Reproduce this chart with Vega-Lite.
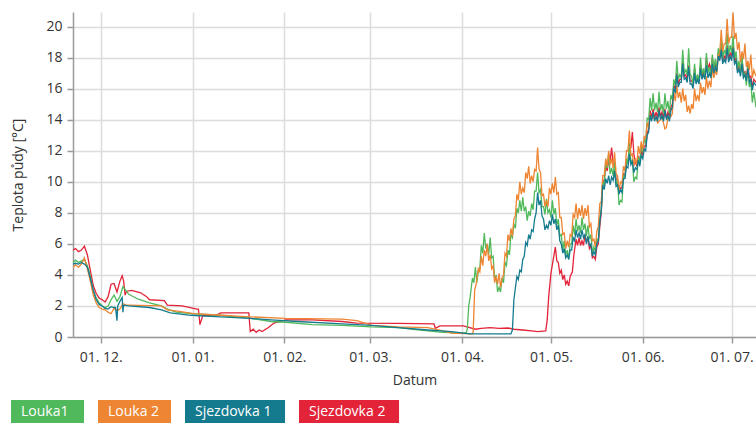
{
"$schema": "https://vega.github.io/schema/vega-lite/v6.json",
"width": 683, "height": 325,
"autosize": {"type": "none"},
"padding": {"left": 73, "top": 12, "right": 0, "bottom": 88},
"background": "white",
"config": {
  "view": {"stroke": null},
  "font": "Open Sans",
  "axis": {"gridColor": "#dcdcdc", "gridWidth": 1.5, "domainColor": "#9a9a9a", "domainWidth": 1.5, "tickColor": "#9a9a9a", "tickWidth": 1.5, "tickSize": 6, "labelFont": "Open Sans", "labelFontSize": 14, "labelColor": "#333333", "titleFont": "Open Sans", "titleFontSize": 14, "titleFontWeight": "normal", "titleColor": "#333333"}
},
"data": {"values": [
{"t":"2015-11-21T15:00","s":"Sjezdovka 2","v":5.6},{"t":"2015-11-22T12:00","s":"Sjezdovka 2","v":5.7},{"t":"2015-11-23T12:00","s":"Sjezdovka 2","v":5.5},{"t":"2015-11-24T12:00","s":"Sjezdovka 2","v":5.6},{"t":"2015-11-25T12:00","s":"Sjezdovka 2","v":5.85},{"t":"2015-11-26T12:00","s":"Sjezdovka 2","v":5.3},{"t":"2015-11-27T12:00","s":"Sjezdovka 2","v":4.3},{"t":"2015-11-28T12:00","s":"Sjezdovka 2","v":3.3},{"t":"2015-11-29T12:00","s":"Sjezdovka 2","v":2.8},{"t":"2015-11-30T12:00","s":"Sjezdovka 2","v":2.5},
{"t":"2015-12-01T12:00","s":"Sjezdovka 2","v":2.4},{"t":"2015-12-02T12:00","s":"Sjezdovka 2","v":2.25},{"t":"2015-12-03T12:00","s":"Sjezdovka 2","v":2.6},{"t":"2015-12-04T12:00","s":"Sjezdovka 2","v":3.4},{"t":"2015-12-05T12:00","s":"Sjezdovka 2","v":3.45},{"t":"2015-12-06T12:00","s":"Sjezdovka 2","v":2.9},{"t":"2015-12-07T12:00","s":"Sjezdovka 2","v":3.6},{"t":"2015-12-08T06:00","s":"Sjezdovka 2","v":3.95},{"t":"2015-12-08T18:00","s":"Sjezdovka 2","v":3.6},{"t":"2015-12-09T06:00","s":"Sjezdovka 2","v":2.7},{"t":"2015-12-09T18:00","s":"Sjezdovka 2","v":2.95},{"t":"2015-12-11T12:00","s":"Sjezdovka 2","v":3.0},{"t":"2015-12-14T12:00","s":"Sjezdovka 2","v":2.85},{"t":"2015-12-16T12:00","s":"Sjezdovka 2","v":2.6},{"t":"2015-12-17T12:00","s":"Sjezdovka 2","v":2.4},{"t":"2015-12-22T12:00","s":"Sjezdovka 2","v":2.35},{"t":"2015-12-23T12:00","s":"Sjezdovka 2","v":2.05},{"t":"2015-12-28T12:00","s":"Sjezdovka 2","v":2.0},
{"t":"2016-01-02T12:00","s":"Sjezdovka 2","v":1.8},{"t":"2016-01-03T00:00","s":"Sjezdovka 2","v":1.8},{"t":"2016-01-03T12:00","s":"Sjezdovka 2","v":0.8},{"t":"2016-01-04T12:00","s":"Sjezdovka 2","v":1.4},{"t":"2016-01-08T12:00","s":"Sjezdovka 2","v":1.35},{"t":"2016-01-10T12:00","s":"Sjezdovka 2","v":1.55},{"t":"2016-01-20T00:00","s":"Sjezdovka 2","v":1.55},{"t":"2016-01-20T12:00","s":"Sjezdovka 2","v":0.35},{"t":"2016-01-21T12:00","s":"Sjezdovka 2","v":0.5},{"t":"2016-01-22T12:00","s":"Sjezdovka 2","v":0.3},{"t":"2016-01-23T12:00","s":"Sjezdovka 2","v":0.45},{"t":"2016-01-24T12:00","s":"Sjezdovka 2","v":0.35},{"t":"2016-01-26T12:00","s":"Sjezdovka 2","v":0.6},{"t":"2016-01-28T12:00","s":"Sjezdovka 2","v":0.9},
{"t":"2016-02-01T12:00","s":"Sjezdovka 2","v":1.1},{"t":"2016-02-10T12:00","s":"Sjezdovka 2","v":1.1},{"t":"2016-02-20T12:00","s":"Sjezdovka 2","v":1.0},{"t":"2016-02-25T12:00","s":"Sjezdovka 2","v":0.9},{"t":"2016-03-10T12:00","s":"Sjezdovka 2","v":0.88},{"t":"2016-03-22T12:00","s":"Sjezdovka 2","v":0.84},{"t":"2016-03-23T00:00","s":"Sjezdovka 2","v":0.56},{"t":"2016-03-24T12:00","s":"Sjezdovka 2","v":0.72},{"t":"2016-04-01T12:00","s":"Sjezdovka 2","v":0.72},{"t":"2016-04-05T12:00","s":"Sjezdovka 2","v":0.5},{"t":"2016-04-07T12:00","s":"Sjezdovka 2","v":0.56},{"t":"2016-04-10T12:00","s":"Sjezdovka 2","v":0.6},{"t":"2016-04-13T12:00","s":"Sjezdovka 2","v":0.55},{"t":"2016-04-16T12:00","s":"Sjezdovka 2","v":0.58},{"t":"2016-04-18T12:00","s":"Sjezdovka 2","v":0.5},{"t":"2016-04-21T12:00","s":"Sjezdovka 2","v":0.45},{"t":"2016-04-24T12:00","s":"Sjezdovka 2","v":0.4},{"t":"2016-04-26T12:00","s":"Sjezdovka 2","v":0.35},{"t":"2016-04-29T06:00","s":"Sjezdovka 2","v":0.4},{"t":"2016-04-29T18:00","s":"Sjezdovka 2","v":1.1},{"t":"2016-04-30T06:00","s":"Sjezdovka 2","v":2.6},
{"t":"2016-05-01T00:00","s":"Sjezdovka 2","v":4.1},{"t":"2016-05-02T12:00","s":"Sjezdovka 2","v":5.8},{"t":"2016-05-03T12:00","s":"Sjezdovka 2","v":4.8},{"t":"2016-05-04T12:00","s":"Sjezdovka 2","v":4.3},{"t":"2016-05-05T12:00","s":"Sjezdovka 2","v":4.0},{"t":"2016-05-06T12:00","s":"Sjezdovka 2","v":3.6},{"t":"2016-05-07T12:00","s":"Sjezdovka 2","v":3.9},{"t":"2016-05-08T06:00","s":"Sjezdovka 2","v":4.2},{"t":"2016-05-08T18:00","s":"Sjezdovka 2","v":5.3},{"t":"2016-05-09T12:00","s":"Sjezdovka 2","v":6.3},{"t":"2016-05-10T12:00","s":"Sjezdovka 2","v":6.4},{"t":"2016-05-11T12:00","s":"Sjezdovka 2","v":6.2},{"t":"2016-05-12T12:00","s":"Sjezdovka 2","v":6.6},{"t":"2016-05-13T12:00","s":"Sjezdovka 2","v":6.4},{"t":"2016-05-14T12:00","s":"Sjezdovka 2","v":5.9},{"t":"2016-05-15T12:00","s":"Sjezdovka 2","v":5.2},{"t":"2016-05-16T12:00","s":"Sjezdovka 2","v":5.8},{"t":"2016-05-17T12:00","s":"Sjezdovka 2","v":7.1},{"t":"2016-05-18T12:00","s":"Sjezdovka 2","v":10.0},{"t":"2016-05-19T12:00","s":"Sjezdovka 2","v":11.0},{"t":"2016-05-20T12:00","s":"Sjezdovka 2","v":11.4},{"t":"2016-05-21T12:00","s":"Sjezdovka 2","v":12.2},{"t":"2016-05-22T12:00","s":"Sjezdovka 2","v":11.2},{"t":"2016-05-23T12:00","s":"Sjezdovka 2","v":10.1},{"t":"2016-05-24T12:00","s":"Sjezdovka 2","v":9.6},{"t":"2016-05-25T12:00","s":"Sjezdovka 2","v":10.5},{"t":"2016-05-26T12:00","s":"Sjezdovka 2","v":11.3},{"t":"2016-05-27T12:00","s":"Sjezdovka 2","v":12.2},{"t":"2016-05-28T12:00","s":"Sjezdovka 2","v":13.2},{"t":"2016-05-29T12:00","s":"Sjezdovka 2","v":11.3},{"t":"2016-05-30T12:00","s":"Sjezdovka 2","v":11.6},{"t":"2016-05-31T12:00","s":"Sjezdovka 2","v":12.0},
{"t":"2016-06-01T12:00","s":"Sjezdovka 2","v":12.3},{"t":"2016-06-02T12:00","s":"Sjezdovka 2","v":13.1},{"t":"2016-06-03T12:00","s":"Sjezdovka 2","v":14.6},{"t":"2016-06-04T12:00","s":"Sjezdovka 2","v":14.7},{"t":"2016-06-05T12:00","s":"Sjezdovka 2","v":14.5},{"t":"2016-06-06T12:00","s":"Sjezdovka 2","v":14.8},{"t":"2016-06-07T12:00","s":"Sjezdovka 2","v":14.5},{"t":"2016-06-08T12:00","s":"Sjezdovka 2","v":14.7},{"t":"2016-06-09T12:00","s":"Sjezdovka 2","v":14.5},{"t":"2016-06-10T12:00","s":"Sjezdovka 2","v":14.8},{"t":"2016-06-11T12:00","s":"Sjezdovka 2","v":16.2},{"t":"2016-06-12T12:00","s":"Sjezdovka 2","v":17.0},{"t":"2016-06-13T12:00","s":"Sjezdovka 2","v":16.6},{"t":"2016-06-14T12:00","s":"Sjezdovka 2","v":17.8},{"t":"2016-06-15T12:00","s":"Sjezdovka 2","v":16.9},{"t":"2016-06-16T12:00","s":"Sjezdovka 2","v":17.5},{"t":"2016-06-17T12:00","s":"Sjezdovka 2","v":16.5},{"t":"2016-06-18T12:00","s":"Sjezdovka 2","v":17.3},{"t":"2016-06-19T12:00","s":"Sjezdovka 2","v":16.8},{"t":"2016-06-20T12:00","s":"Sjezdovka 2","v":17.5},{"t":"2016-06-21T12:00","s":"Sjezdovka 2","v":17.1},{"t":"2016-06-22T12:00","s":"Sjezdovka 2","v":18.0},{"t":"2016-06-23T12:00","s":"Sjezdovka 2","v":17.6},{"t":"2016-06-24T12:00","s":"Sjezdovka 2","v":18.0},{"t":"2016-06-25T12:00","s":"Sjezdovka 2","v":17.6},{"t":"2016-06-26T12:00","s":"Sjezdovka 2","v":18.3},{"t":"2016-06-27T12:00","s":"Sjezdovka 2","v":18.7},{"t":"2016-06-28T12:00","s":"Sjezdovka 2","v":18.1},{"t":"2016-06-29T12:00","s":"Sjezdovka 2","v":18.8},{"t":"2016-06-30T12:00","s":"Sjezdovka 2","v":18.3},
{"t":"2016-07-01T12:00","s":"Sjezdovka 2","v":18.9},{"t":"2016-07-02T12:00","s":"Sjezdovka 2","v":18.0},{"t":"2016-07-03T12:00","s":"Sjezdovka 2","v":17.5},{"t":"2016-07-04T12:00","s":"Sjezdovka 2","v":17.9},{"t":"2016-07-05T12:00","s":"Sjezdovka 2","v":17.1},{"t":"2016-07-06T12:00","s":"Sjezdovka 2","v":17.6},{"t":"2016-07-07T12:00","s":"Sjezdovka 2","v":16.8},{"t":"2016-07-08T12:00","s":"Sjezdovka 2","v":16.6},{"t":"2016-07-09T06:00","s":"Sjezdovka 2","v":16.4},

{"t":"2015-11-21T15:00","s":"Louka1","v":4.8},{"t":"2015-11-22T12:00","s":"Louka1","v":4.95},{"t":"2015-11-23T12:00","s":"Louka1","v":4.8},{"t":"2015-11-24T12:00","s":"Louka1","v":4.9},{"t":"2015-11-25T12:00","s":"Louka1","v":5.0},{"t":"2015-11-26T12:00","s":"Louka1","v":4.6},{"t":"2015-11-27T12:00","s":"Louka1","v":3.9},{"t":"2015-11-28T12:00","s":"Louka1","v":3.0},{"t":"2015-11-29T12:00","s":"Louka1","v":2.5},{"t":"2015-11-30T12:00","s":"Louka1","v":2.2},
{"t":"2015-12-01T12:00","s":"Louka1","v":2.0},{"t":"2015-12-02T12:00","s":"Louka1","v":1.9},{"t":"2015-12-03T12:00","s":"Louka1","v":2.0},{"t":"2015-12-04T12:00","s":"Louka1","v":2.4},{"t":"2015-12-05T12:00","s":"Louka1","v":2.7},{"t":"2015-12-06T12:00","s":"Louka1","v":2.3},{"t":"2015-12-07T12:00","s":"Louka1","v":2.6},{"t":"2015-12-08T12:00","s":"Louka1","v":3.25},{"t":"2015-12-09T12:00","s":"Louka1","v":3.0},{"t":"2015-12-10T12:00","s":"Louka1","v":2.75},{"t":"2015-12-13T12:00","s":"Louka1","v":2.45},{"t":"2015-12-17T12:00","s":"Louka1","v":2.2},{"t":"2015-12-21T12:00","s":"Louka1","v":2.0},{"t":"2015-12-23T12:00","s":"Louka1","v":1.8},{"t":"2015-12-26T12:00","s":"Louka1","v":1.6},{"t":"2015-12-31T12:00","s":"Louka1","v":1.5},
{"t":"2016-01-10T12:00","s":"Louka1","v":1.4},{"t":"2016-01-20T12:00","s":"Louka1","v":1.2},{"t":"2016-01-27T12:00","s":"Louka1","v":1.0},{"t":"2016-02-01T12:00","s":"Louka1","v":0.95},{"t":"2016-02-10T12:00","s":"Louka1","v":0.8},{"t":"2016-02-20T12:00","s":"Louka1","v":0.75},{"t":"2016-03-01T12:00","s":"Louka1","v":0.65},{"t":"2016-03-10T12:00","s":"Louka1","v":0.6},{"t":"2016-03-15T12:00","s":"Louka1","v":0.5},{"t":"2016-03-20T12:00","s":"Louka1","v":0.4},{"t":"2016-03-25T12:00","s":"Louka1","v":0.3},{"t":"2016-04-01T12:00","s":"Louka1","v":0.25},{"t":"2016-04-02T12:00","s":"Louka1","v":0.3},{"t":"2016-04-02T18:00","s":"Louka1","v":0.5},{"t":"2016-04-03T06:00","s":"Louka1","v":2.0},{"t":"2016-04-03T18:00","s":"Louka1","v":2.6},
{"t":"2016-04-04T12:00","s":"Louka1","v":3.8},{"t":"2016-04-05T12:00","s":"Louka1","v":4.5},{"t":"2016-04-06T12:00","s":"Louka1","v":4.3},{"t":"2016-04-07T12:00","s":"Louka1","v":5.9},{"t":"2016-04-08T12:00","s":"Louka1","v":6.7},{"t":"2016-04-09T12:00","s":"Louka1","v":6.0},{"t":"2016-04-10T12:00","s":"Louka1","v":6.4},{"t":"2016-04-11T12:00","s":"Louka1","v":5.2},{"t":"2016-04-12T12:00","s":"Louka1","v":4.0},{"t":"2016-04-13T12:00","s":"Louka1","v":3.2},{"t":"2016-04-14T12:00","s":"Louka1","v":3.8},{"t":"2016-04-15T12:00","s":"Louka1","v":4.8},{"t":"2016-04-16T12:00","s":"Louka1","v":5.6},{"t":"2016-04-17T12:00","s":"Louka1","v":6.6},{"t":"2016-04-18T12:00","s":"Louka1","v":7.3},{"t":"2016-04-19T12:00","s":"Louka1","v":8.3},{"t":"2016-04-20T12:00","s":"Louka1","v":8.8},{"t":"2016-04-21T12:00","s":"Louka1","v":9.0},{"t":"2016-04-22T12:00","s":"Louka1","v":8.4},{"t":"2016-04-23T12:00","s":"Louka1","v":8.1},{"t":"2016-04-24T12:00","s":"Louka1","v":8.6},{"t":"2016-04-25T12:00","s":"Louka1","v":9.4},{"t":"2016-04-26T12:00","s":"Louka1","v":10.6},{"t":"2016-04-27T12:00","s":"Louka1","v":9.5},{"t":"2016-04-28T12:00","s":"Louka1","v":8.4},{"t":"2016-04-29T12:00","s":"Louka1","v":8.9},{"t":"2016-04-30T12:00","s":"Louka1","v":8.2},
{"t":"2016-05-01T12:00","s":"Louka1","v":8.8},{"t":"2016-05-02T12:00","s":"Louka1","v":8.3},{"t":"2016-05-03T12:00","s":"Louka1","v":7.6},{"t":"2016-05-04T12:00","s":"Louka1","v":6.6},{"t":"2016-05-05T12:00","s":"Louka1","v":6.2},{"t":"2016-05-06T12:00","s":"Louka1","v":5.6},{"t":"2016-05-07T12:00","s":"Louka1","v":6.0},{"t":"2016-05-08T12:00","s":"Louka1","v":7.2},{"t":"2016-05-09T12:00","s":"Louka1","v":7.6},{"t":"2016-05-10T12:00","s":"Louka1","v":7.2},{"t":"2016-05-11T12:00","s":"Louka1","v":7.7},{"t":"2016-05-12T12:00","s":"Louka1","v":7.3},{"t":"2016-05-13T12:00","s":"Louka1","v":7.2},{"t":"2016-05-14T12:00","s":"Louka1","v":6.6},{"t":"2016-05-15T12:00","s":"Louka1","v":5.8},{"t":"2016-05-16T12:00","s":"Louka1","v":6.3},{"t":"2016-05-17T12:00","s":"Louka1","v":7.6},{"t":"2016-05-18T12:00","s":"Louka1","v":10.0},{"t":"2016-05-19T12:00","s":"Louka1","v":11.2},{"t":"2016-05-20T12:00","s":"Louka1","v":11.8},{"t":"2016-05-21T12:00","s":"Louka1","v":10.9},{"t":"2016-05-22T12:00","s":"Louka1","v":11.3},{"t":"2016-05-23T12:00","s":"Louka1","v":10.1},{"t":"2016-05-24T12:00","s":"Louka1","v":8.8},{"t":"2016-05-25T12:00","s":"Louka1","v":10.4},{"t":"2016-05-26T12:00","s":"Louka1","v":11.5},{"t":"2016-05-27T12:00","s":"Louka1","v":12.5},{"t":"2016-05-28T12:00","s":"Louka1","v":11.4},{"t":"2016-05-29T12:00","s":"Louka1","v":10.3},{"t":"2016-05-30T12:00","s":"Louka1","v":11.6},{"t":"2016-05-31T12:00","s":"Louka1","v":12.4},
{"t":"2016-06-01T12:00","s":"Louka1","v":12.7},{"t":"2016-06-02T12:00","s":"Louka1","v":14.1},{"t":"2016-06-03T12:00","s":"Louka1","v":15.4},{"t":"2016-06-04T12:00","s":"Louka1","v":15.7},{"t":"2016-06-05T12:00","s":"Louka1","v":15.1},{"t":"2016-06-06T12:00","s":"Louka1","v":15.8},{"t":"2016-06-07T12:00","s":"Louka1","v":15.0},{"t":"2016-06-08T12:00","s":"Louka1","v":15.7},{"t":"2016-06-09T12:00","s":"Louka1","v":15.2},{"t":"2016-06-10T12:00","s":"Louka1","v":15.6},{"t":"2016-06-11T12:00","s":"Louka1","v":16.6},{"t":"2016-06-12T12:00","s":"Louka1","v":17.8},{"t":"2016-06-13T12:00","s":"Louka1","v":16.9},{"t":"2016-06-14T12:00","s":"Louka1","v":18.5},{"t":"2016-06-15T12:00","s":"Louka1","v":17.2},{"t":"2016-06-16T12:00","s":"Louka1","v":18.6},{"t":"2016-06-17T12:00","s":"Louka1","v":16.8},{"t":"2016-06-18T12:00","s":"Louka1","v":17.6},{"t":"2016-06-19T12:00","s":"Louka1","v":16.9},{"t":"2016-06-20T12:00","s":"Louka1","v":18.0},{"t":"2016-06-21T12:00","s":"Louka1","v":17.3},{"t":"2016-06-22T12:00","s":"Louka1","v":18.3},{"t":"2016-06-23T12:00","s":"Louka1","v":17.4},{"t":"2016-06-24T12:00","s":"Louka1","v":18.2},{"t":"2016-06-25T12:00","s":"Louka1","v":17.9},{"t":"2016-06-26T12:00","s":"Louka1","v":18.6},{"t":"2016-06-27T12:00","s":"Louka1","v":19.3},{"t":"2016-06-28T12:00","s":"Louka1","v":18.5},{"t":"2016-06-29T12:00","s":"Louka1","v":19.6},{"t":"2016-06-30T12:00","s":"Louka1","v":18.8},
{"t":"2016-07-01T12:00","s":"Louka1","v":19.4},{"t":"2016-07-02T12:00","s":"Louka1","v":18.4},{"t":"2016-07-03T12:00","s":"Louka1","v":17.8},{"t":"2016-07-04T12:00","s":"Louka1","v":18.2},{"t":"2016-07-05T12:00","s":"Louka1","v":17.0},{"t":"2016-07-06T12:00","s":"Louka1","v":17.5},{"t":"2016-07-07T12:00","s":"Louka1","v":16.4},{"t":"2016-07-08T12:00","s":"Louka1","v":15.8},{"t":"2016-07-09T06:00","s":"Louka1","v":14.8},

{"t":"2015-11-21T15:00","s":"Louka 2","v":4.5},{"t":"2015-11-22T12:00","s":"Louka 2","v":4.65},{"t":"2015-11-23T12:00","s":"Louka 2","v":4.5},{"t":"2015-11-24T12:00","s":"Louka 2","v":4.7},{"t":"2015-11-25T12:00","s":"Louka 2","v":5.1},{"t":"2015-11-26T12:00","s":"Louka 2","v":4.4},{"t":"2015-11-27T12:00","s":"Louka 2","v":3.6},{"t":"2015-11-28T12:00","s":"Louka 2","v":2.7},{"t":"2015-11-29T12:00","s":"Louka 2","v":2.2},{"t":"2015-11-30T12:00","s":"Louka 2","v":1.9},
{"t":"2015-12-01T12:00","s":"Louka 2","v":1.8},{"t":"2015-12-02T12:00","s":"Louka 2","v":1.75},{"t":"2015-12-03T12:00","s":"Louka 2","v":1.6},{"t":"2015-12-04T12:00","s":"Louka 2","v":1.5},{"t":"2015-12-05T12:00","s":"Louka 2","v":1.85},{"t":"2015-12-06T12:00","s":"Louka 2","v":1.7},{"t":"2015-12-07T12:00","s":"Louka 2","v":1.8},{"t":"2015-12-08T12:00","s":"Louka 2","v":2.15},{"t":"2015-12-09T12:00","s":"Louka 2","v":2.05},{"t":"2015-12-10T12:00","s":"Louka 2","v":2.05},{"t":"2015-12-21T12:00","s":"Louka 2","v":2.0},{"t":"2015-12-23T12:00","s":"Louka 2","v":1.75},{"t":"2015-12-27T12:00","s":"Louka 2","v":1.65},
{"t":"2016-01-01T12:00","s":"Louka 2","v":1.5},{"t":"2016-01-10T12:00","s":"Louka 2","v":1.4},{"t":"2016-01-20T12:00","s":"Louka 2","v":1.3},{"t":"2016-02-01T12:00","s":"Louka 2","v":1.2},{"t":"2016-02-20T12:00","s":"Louka 2","v":1.15},{"t":"2016-02-25T12:00","s":"Louka 2","v":1.05},{"t":"2016-03-01T12:00","s":"Louka 2","v":0.75},{"t":"2016-03-10T12:00","s":"Louka 2","v":0.65},{"t":"2016-03-20T12:00","s":"Louka 2","v":0.6},{"t":"2016-03-25T12:00","s":"Louka 2","v":0.4},{"t":"2016-03-28T12:00","s":"Louka 2","v":0.25},{"t":"2016-04-04T12:00","s":"Louka 2","v":0.2},{"t":"2016-04-04T18:00","s":"Louka 2","v":0.3},{"t":"2016-04-05T06:00","s":"Louka 2","v":3.0},{"t":"2016-04-05T18:00","s":"Louka 2","v":3.4},
{"t":"2016-04-06T12:00","s":"Louka 2","v":4.4},{"t":"2016-04-07T12:00","s":"Louka 2","v":5.2},{"t":"2016-04-08T12:00","s":"Louka 2","v":5.6},{"t":"2016-04-09T12:00","s":"Louka 2","v":6.0},{"t":"2016-04-10T12:00","s":"Louka 2","v":5.3},{"t":"2016-04-11T12:00","s":"Louka 2","v":4.6},{"t":"2016-04-12T12:00","s":"Louka 2","v":3.9},{"t":"2016-04-13T12:00","s":"Louka 2","v":4.1},{"t":"2016-04-14T12:00","s":"Louka 2","v":3.8},{"t":"2016-04-15T12:00","s":"Louka 2","v":5.4},{"t":"2016-04-16T12:00","s":"Louka 2","v":6.6},{"t":"2016-04-17T12:00","s":"Louka 2","v":7.0},{"t":"2016-04-18T12:00","s":"Louka 2","v":7.6},{"t":"2016-04-19T12:00","s":"Louka 2","v":9.2},{"t":"2016-04-20T12:00","s":"Louka 2","v":10.0},{"t":"2016-04-21T12:00","s":"Louka 2","v":9.6},{"t":"2016-04-22T12:00","s":"Louka 2","v":10.6},{"t":"2016-04-23T12:00","s":"Louka 2","v":11.0},{"t":"2016-04-24T12:00","s":"Louka 2","v":10.4},{"t":"2016-04-25T12:00","s":"Louka 2","v":10.8},{"t":"2016-04-26T12:00","s":"Louka 2","v":12.2},{"t":"2016-04-27T12:00","s":"Louka 2","v":10.6},{"t":"2016-04-28T12:00","s":"Louka 2","v":9.2},{"t":"2016-04-29T12:00","s":"Louka 2","v":8.8},{"t":"2016-04-30T12:00","s":"Louka 2","v":9.6},
{"t":"2016-05-01T12:00","s":"Louka 2","v":9.9},{"t":"2016-05-02T12:00","s":"Louka 2","v":10.3},{"t":"2016-05-03T12:00","s":"Louka 2","v":9.3},{"t":"2016-05-04T12:00","s":"Louka 2","v":7.7},{"t":"2016-05-05T12:00","s":"Louka 2","v":6.7},{"t":"2016-05-06T12:00","s":"Louka 2","v":6.2},{"t":"2016-05-07T12:00","s":"Louka 2","v":6.6},{"t":"2016-05-08T12:00","s":"Louka 2","v":7.9},{"t":"2016-05-09T12:00","s":"Louka 2","v":8.6},{"t":"2016-05-10T12:00","s":"Louka 2","v":8.3},{"t":"2016-05-11T12:00","s":"Louka 2","v":8.5},{"t":"2016-05-12T12:00","s":"Louka 2","v":8.3},{"t":"2016-05-13T12:00","s":"Louka 2","v":8.5},{"t":"2016-05-14T12:00","s":"Louka 2","v":7.3},{"t":"2016-05-15T12:00","s":"Louka 2","v":6.3},{"t":"2016-05-16T12:00","s":"Louka 2","v":6.8},{"t":"2016-05-17T12:00","s":"Louka 2","v":8.6},{"t":"2016-05-18T12:00","s":"Louka 2","v":10.4},{"t":"2016-05-19T12:00","s":"Louka 2","v":11.5},{"t":"2016-05-20T12:00","s":"Louka 2","v":12.0},{"t":"2016-05-21T12:00","s":"Louka 2","v":11.5},{"t":"2016-05-22T12:00","s":"Louka 2","v":11.9},{"t":"2016-05-23T12:00","s":"Louka 2","v":10.4},{"t":"2016-05-24T12:00","s":"Louka 2","v":10.0},{"t":"2016-05-25T12:00","s":"Louka 2","v":11.0},{"t":"2016-05-26T12:00","s":"Louka 2","v":12.0},{"t":"2016-05-27T12:00","s":"Louka 2","v":13.3},{"t":"2016-05-28T12:00","s":"Louka 2","v":11.8},{"t":"2016-05-29T12:00","s":"Louka 2","v":11.5},{"t":"2016-05-30T12:00","s":"Louka 2","v":12.3},{"t":"2016-05-31T12:00","s":"Louka 2","v":12.6},
{"t":"2016-06-01T12:00","s":"Louka 2","v":12.9},{"t":"2016-06-02T12:00","s":"Louka 2","v":13.8},{"t":"2016-06-03T12:00","s":"Louka 2","v":14.3},{"t":"2016-06-04T12:00","s":"Louka 2","v":14.1},{"t":"2016-06-05T12:00","s":"Louka 2","v":14.2},{"t":"2016-06-06T12:00","s":"Louka 2","v":13.9},{"t":"2016-06-07T12:00","s":"Louka 2","v":14.2},{"t":"2016-06-08T12:00","s":"Louka 2","v":13.4},{"t":"2016-06-09T12:00","s":"Louka 2","v":14.1},{"t":"2016-06-10T12:00","s":"Louka 2","v":14.2},{"t":"2016-06-11T12:00","s":"Louka 2","v":15.8},{"t":"2016-06-12T12:00","s":"Louka 2","v":16.2},{"t":"2016-06-13T12:00","s":"Louka 2","v":15.8},{"t":"2016-06-14T12:00","s":"Louka 2","v":16.0},{"t":"2016-06-15T12:00","s":"Louka 2","v":15.6},{"t":"2016-06-16T12:00","s":"Louka 2","v":14.9},{"t":"2016-06-17T12:00","s":"Louka 2","v":15.0},{"t":"2016-06-18T12:00","s":"Louka 2","v":16.0},{"t":"2016-06-19T12:00","s":"Louka 2","v":15.6},{"t":"2016-06-20T12:00","s":"Louka 2","v":16.4},{"t":"2016-06-21T12:00","s":"Louka 2","v":16.1},{"t":"2016-06-22T12:00","s":"Louka 2","v":16.8},{"t":"2016-06-23T12:00","s":"Louka 2","v":16.5},{"t":"2016-06-24T12:00","s":"Louka 2","v":17.4},{"t":"2016-06-25T12:00","s":"Louka 2","v":17.2},{"t":"2016-06-26T12:00","s":"Louka 2","v":18.2},{"t":"2016-06-27T12:00","s":"Louka 2","v":19.8},{"t":"2016-06-28T12:00","s":"Louka 2","v":18.9},{"t":"2016-06-29T12:00","s":"Louka 2","v":20.5},{"t":"2016-06-30T12:00","s":"Louka 2","v":19.3},
{"t":"2016-07-01T12:00","s":"Louka 2","v":20.9},{"t":"2016-07-02T12:00","s":"Louka 2","v":19.6},{"t":"2016-07-03T12:00","s":"Louka 2","v":19.0},{"t":"2016-07-04T12:00","s":"Louka 2","v":18.4},{"t":"2016-07-05T12:00","s":"Louka 2","v":18.9},{"t":"2016-07-06T12:00","s":"Louka 2","v":17.8},{"t":"2016-07-07T12:00","s":"Louka 2","v":18.2},{"t":"2016-07-08T12:00","s":"Louka 2","v":17.2},{"t":"2016-07-09T06:00","s":"Louka 2","v":16.8},

{"t":"2015-11-21T15:00","s":"Sjezdovka 1","v":4.7},{"t":"2015-11-22T12:00","s":"Sjezdovka 1","v":4.75},{"t":"2015-11-23T12:00","s":"Sjezdovka 1","v":4.7},{"t":"2015-11-24T12:00","s":"Sjezdovka 1","v":4.8},{"t":"2015-11-25T12:00","s":"Sjezdovka 1","v":4.7},{"t":"2015-11-26T12:00","s":"Sjezdovka 1","v":4.5},{"t":"2015-11-27T12:00","s":"Sjezdovka 1","v":3.8},{"t":"2015-11-28T12:00","s":"Sjezdovka 1","v":3.0},{"t":"2015-11-29T12:00","s":"Sjezdovka 1","v":2.4},{"t":"2015-11-30T12:00","s":"Sjezdovka 1","v":2.1},
{"t":"2015-12-01T12:00","s":"Sjezdovka 1","v":2.0},{"t":"2015-12-02T12:00","s":"Sjezdovka 1","v":1.85},{"t":"2015-12-03T12:00","s":"Sjezdovka 1","v":1.8},{"t":"2015-12-04T12:00","s":"Sjezdovka 1","v":1.95},{"t":"2015-12-05T12:00","s":"Sjezdovka 1","v":1.9},{"t":"2015-12-06T00:00","s":"Sjezdovka 1","v":1.9},{"t":"2015-12-06T12:00","s":"Sjezdovka 1","v":1.05},{"t":"2015-12-06T18:00","s":"Sjezdovka 1","v":2.0},{"t":"2015-12-07T12:00","s":"Sjezdovka 1","v":2.3},{"t":"2015-12-08T06:00","s":"Sjezdovka 1","v":2.55},{"t":"2015-12-08T12:00","s":"Sjezdovka 1","v":1.6},{"t":"2015-12-08T18:00","s":"Sjezdovka 1","v":2.05},{"t":"2015-12-10T12:00","s":"Sjezdovka 1","v":2.0},{"t":"2015-12-17T12:00","s":"Sjezdovka 1","v":1.9},{"t":"2015-12-21T12:00","s":"Sjezdovka 1","v":1.75},{"t":"2015-12-24T12:00","s":"Sjezdovka 1","v":1.55},{"t":"2015-12-31T12:00","s":"Sjezdovka 1","v":1.4},
{"t":"2016-01-10T12:00","s":"Sjezdovka 1","v":1.3},{"t":"2016-01-20T12:00","s":"Sjezdovka 1","v":1.2},{"t":"2016-01-27T12:00","s":"Sjezdovka 1","v":1.1},{"t":"2016-02-05T12:00","s":"Sjezdovka 1","v":1.0},{"t":"2016-02-20T12:00","s":"Sjezdovka 1","v":0.85},{"t":"2016-03-01T12:00","s":"Sjezdovka 1","v":0.75},{"t":"2016-03-10T12:00","s":"Sjezdovka 1","v":0.6},{"t":"2016-03-20T12:00","s":"Sjezdovka 1","v":0.45},{"t":"2016-03-28T12:00","s":"Sjezdovka 1","v":0.35},{"t":"2016-04-03T12:00","s":"Sjezdovka 1","v":0.2},{"t":"2016-04-17T12:00","s":"Sjezdovka 1","v":0.2},{"t":"2016-04-18T00:00","s":"Sjezdovka 1","v":0.45},{"t":"2016-04-18T12:00","s":"Sjezdovka 1","v":2.4},
{"t":"2016-04-19T12:00","s":"Sjezdovka 1","v":3.9},{"t":"2016-04-20T12:00","s":"Sjezdovka 1","v":4.3},{"t":"2016-04-21T12:00","s":"Sjezdovka 1","v":5.0},{"t":"2016-04-22T12:00","s":"Sjezdovka 1","v":6.1},{"t":"2016-04-23T12:00","s":"Sjezdovka 1","v":6.6},{"t":"2016-04-24T12:00","s":"Sjezdovka 1","v":6.9},{"t":"2016-04-25T12:00","s":"Sjezdovka 1","v":7.6},{"t":"2016-04-26T12:00","s":"Sjezdovka 1","v":9.3},{"t":"2016-04-27T12:00","s":"Sjezdovka 1","v":8.8},{"t":"2016-04-28T12:00","s":"Sjezdovka 1","v":7.6},{"t":"2016-04-29T12:00","s":"Sjezdovka 1","v":7.2},{"t":"2016-04-30T12:00","s":"Sjezdovka 1","v":7.5},
{"t":"2016-05-01T12:00","s":"Sjezdovka 1","v":7.9},{"t":"2016-05-02T12:00","s":"Sjezdovka 1","v":7.6},{"t":"2016-05-03T12:00","s":"Sjezdovka 1","v":7.2},{"t":"2016-05-04T12:00","s":"Sjezdovka 1","v":6.0},{"t":"2016-05-05T12:00","s":"Sjezdovka 1","v":5.7},{"t":"2016-05-06T12:00","s":"Sjezdovka 1","v":5.3},{"t":"2016-05-07T12:00","s":"Sjezdovka 1","v":5.6},{"t":"2016-05-08T12:00","s":"Sjezdovka 1","v":6.4},{"t":"2016-05-09T12:00","s":"Sjezdovka 1","v":6.9},{"t":"2016-05-10T12:00","s":"Sjezdovka 1","v":6.7},{"t":"2016-05-11T12:00","s":"Sjezdovka 1","v":6.9},{"t":"2016-05-12T12:00","s":"Sjezdovka 1","v":6.6},{"t":"2016-05-13T12:00","s":"Sjezdovka 1","v":6.5},{"t":"2016-05-14T12:00","s":"Sjezdovka 1","v":6.0},{"t":"2016-05-15T12:00","s":"Sjezdovka 1","v":5.5},{"t":"2016-05-16T12:00","s":"Sjezdovka 1","v":6.0},{"t":"2016-05-17T12:00","s":"Sjezdovka 1","v":7.4},{"t":"2016-05-18T12:00","s":"Sjezdovka 1","v":9.8},{"t":"2016-05-19T12:00","s":"Sjezdovka 1","v":10.2},{"t":"2016-05-20T12:00","s":"Sjezdovka 1","v":10.4},{"t":"2016-05-21T12:00","s":"Sjezdovka 1","v":10.3},{"t":"2016-05-22T12:00","s":"Sjezdovka 1","v":10.7},{"t":"2016-05-23T12:00","s":"Sjezdovka 1","v":9.8},{"t":"2016-05-24T12:00","s":"Sjezdovka 1","v":9.5},{"t":"2016-05-25T12:00","s":"Sjezdovka 1","v":10.2},{"t":"2016-05-26T12:00","s":"Sjezdovka 1","v":11.0},{"t":"2016-05-27T12:00","s":"Sjezdovka 1","v":11.8},{"t":"2016-05-28T12:00","s":"Sjezdovka 1","v":11.3},{"t":"2016-05-29T12:00","s":"Sjezdovka 1","v":10.9},{"t":"2016-05-30T12:00","s":"Sjezdovka 1","v":11.4},{"t":"2016-05-31T12:00","s":"Sjezdovka 1","v":11.7},
{"t":"2016-06-01T12:00","s":"Sjezdovka 1","v":12.1},{"t":"2016-06-02T12:00","s":"Sjezdovka 1","v":13.0},{"t":"2016-06-03T12:00","s":"Sjezdovka 1","v":14.3},{"t":"2016-06-04T12:00","s":"Sjezdovka 1","v":14.5},{"t":"2016-06-05T12:00","s":"Sjezdovka 1","v":14.2},{"t":"2016-06-06T12:00","s":"Sjezdovka 1","v":14.6},{"t":"2016-06-07T12:00","s":"Sjezdovka 1","v":14.3},{"t":"2016-06-08T12:00","s":"Sjezdovka 1","v":14.6},{"t":"2016-06-09T12:00","s":"Sjezdovka 1","v":14.3},{"t":"2016-06-10T12:00","s":"Sjezdovka 1","v":14.6},{"t":"2016-06-11T12:00","s":"Sjezdovka 1","v":16.0},{"t":"2016-06-12T12:00","s":"Sjezdovka 1","v":16.9},{"t":"2016-06-13T12:00","s":"Sjezdovka 1","v":16.4},{"t":"2016-06-14T12:00","s":"Sjezdovka 1","v":17.6},{"t":"2016-06-15T12:00","s":"Sjezdovka 1","v":16.7},{"t":"2016-06-16T12:00","s":"Sjezdovka 1","v":17.4},{"t":"2016-06-17T12:00","s":"Sjezdovka 1","v":16.3},{"t":"2016-06-18T12:00","s":"Sjezdovka 1","v":17.0},{"t":"2016-06-19T12:00","s":"Sjezdovka 1","v":16.6},{"t":"2016-06-20T12:00","s":"Sjezdovka 1","v":17.3},{"t":"2016-06-21T12:00","s":"Sjezdovka 1","v":16.9},{"t":"2016-06-22T12:00","s":"Sjezdovka 1","v":17.5},{"t":"2016-06-23T12:00","s":"Sjezdovka 1","v":17.0},{"t":"2016-06-24T12:00","s":"Sjezdovka 1","v":17.6},{"t":"2016-06-25T12:00","s":"Sjezdovka 1","v":17.4},{"t":"2016-06-26T12:00","s":"Sjezdovka 1","v":18.1},{"t":"2016-06-27T12:00","s":"Sjezdovka 1","v":18.5},{"t":"2016-06-28T12:00","s":"Sjezdovka 1","v":17.9},{"t":"2016-06-29T12:00","s":"Sjezdovka 1","v":18.6},{"t":"2016-06-30T12:00","s":"Sjezdovka 1","v":18.1},
{"t":"2016-07-01T12:00","s":"Sjezdovka 1","v":18.6},{"t":"2016-07-02T12:00","s":"Sjezdovka 1","v":17.8},{"t":"2016-07-03T12:00","s":"Sjezdovka 1","v":17.3},{"t":"2016-07-04T12:00","s":"Sjezdovka 1","v":17.6},{"t":"2016-07-05T12:00","s":"Sjezdovka 1","v":16.9},{"t":"2016-07-06T12:00","s":"Sjezdovka 1","v":17.3},{"t":"2016-07-07T12:00","s":"Sjezdovka 1","v":16.6},{"t":"2016-07-08T12:00","s":"Sjezdovka 1","v":16.4},{"t":"2016-07-09T06:00","s":"Sjezdovka 1","v":16.2},

{"t":"2016-04-05T00:00","s":"Louka1","v":3.5},{"t":"2016-04-06T00:00","s":"Louka1","v":3.5},{"t":"2016-04-07T00:00","s":"Louka1","v":4.4},{"t":"2016-04-08T00:00","s":"Louka1","v":5.4},{"t":"2016-04-09T00:00","s":"Louka1","v":5.7},{"t":"2016-04-10T00:00","s":"Louka1","v":5.3},{"t":"2016-04-11T00:00","s":"Louka1","v":5.1},{"t":"2016-04-12T00:00","s":"Louka1","v":3.7},{"t":"2016-04-13T00:00","s":"Louka1","v":2.9},{"t":"2016-04-14T00:00","s":"Louka1","v":2.9},{"t":"2016-04-15T00:00","s":"Louka1","v":3.5},{"t":"2016-04-16T00:00","s":"Louka1","v":4.6},{"t":"2016-04-17T00:00","s":"Louka1","v":5.3},{"t":"2016-04-18T00:00","s":"Louka1","v":6.4},{"t":"2016-04-19T00:00","s":"Louka1","v":7.0},{"t":"2016-04-20T00:00","s":"Louka1","v":8.0},{"t":"2016-04-21T00:00","s":"Louka1","v":8.1},{"t":"2016-04-22T00:00","s":"Louka1","v":8.1},{"t":"2016-04-23T00:00","s":"Louka1","v":7.5},{"t":"2016-04-24T00:00","s":"Louka1","v":7.8},{"t":"2016-04-25T00:00","s":"Louka1","v":8.2},{"t":"2016-04-26T00:00","s":"Louka1","v":9.4},{"t":"2016-04-27T00:00","s":"Louka1","v":9.3},{"t":"2016-04-28T00:00","s":"Louka1","v":8.4},{"t":"2016-04-29T00:00","s":"Louka1","v":7.9},{"t":"2016-04-30T00:00","s":"Louka1","v":8.0},
{"t":"2016-05-01T00:00","s":"Louka1","v":7.7},{"t":"2016-05-02T00:00","s":"Louka1","v":7.9},{"t":"2016-05-03T00:00","s":"Louka1","v":7.2},{"t":"2016-05-04T00:00","s":"Louka1","v":6.5},{"t":"2016-05-05T00:00","s":"Louka1","v":5.6},{"t":"2016-05-06T00:00","s":"Louka1","v":5.3},{"t":"2016-05-07T00:00","s":"Louka1","v":5.0},{"t":"2016-05-08T00:00","s":"Louka1","v":6.0},{"t":"2016-05-09T00:00","s":"Louka1","v":6.6},{"t":"2016-05-10T00:00","s":"Louka1","v":6.8},{"t":"2016-05-11T00:00","s":"Louka1","v":6.7},{"t":"2016-05-12T00:00","s":"Louka1","v":6.9},{"t":"2016-05-13T00:00","s":"Louka1","v":6.5},{"t":"2016-05-14T00:00","s":"Louka1","v":6.3},{"t":"2016-05-15T00:00","s":"Louka1","v":5.4},{"t":"2016-05-16T00:00","s":"Louka1","v":5.5},{"t":"2016-05-17T00:00","s":"Louka1","v":6.2},{"t":"2016-05-18T00:00","s":"Louka1","v":8.2},{"t":"2016-05-19T00:00","s":"Louka1","v":9.8},{"t":"2016-05-20T00:00","s":"Louka1","v":10.9},{"t":"2016-05-21T00:00","s":"Louka1","v":10.5},{"t":"2016-05-22T00:00","s":"Louka1","v":10.4},{"t":"2016-05-23T00:00","s":"Louka1","v":9.8},{"t":"2016-05-24T00:00","s":"Louka1","v":8.5},{"t":"2016-05-25T00:00","s":"Louka1","v":8.7},{"t":"2016-05-26T00:00","s":"Louka1","v":10.3},{"t":"2016-05-27T00:00","s":"Louka1","v":11.1},{"t":"2016-05-28T00:00","s":"Louka1","v":11.3},{"t":"2016-05-29T00:00","s":"Louka1","v":10.0},{"t":"2016-05-30T00:00","s":"Louka1","v":10.2},{"t":"2016-05-31T00:00","s":"Louka1","v":11.1},
{"t":"2016-06-01T00:00","s":"Louka1","v":11.9},{"t":"2016-06-02T00:00","s":"Louka1","v":12.5},{"t":"2016-06-03T00:00","s":"Louka1","v":14.0},{"t":"2016-06-04T00:00","s":"Louka1","v":14.6},{"t":"2016-06-05T00:00","s":"Louka1","v":14.6},{"t":"2016-06-06T00:00","s":"Louka1","v":14.5},{"t":"2016-06-07T00:00","s":"Louka1","v":14.6},{"t":"2016-06-08T00:00","s":"Louka1","v":14.4},{"t":"2016-06-09T00:00","s":"Louka1","v":14.7},{"t":"2016-06-10T00:00","s":"Louka1","v":14.4},{"t":"2016-06-11T00:00","s":"Louka1","v":15.3},{"t":"2016-06-12T00:00","s":"Louka1","v":16.2},{"t":"2016-06-13T00:00","s":"Louka1","v":16.6},{"t":"2016-06-14T00:00","s":"Louka1","v":16.7},{"t":"2016-06-15T00:00","s":"Louka1","v":17.0},{"t":"2016-06-16T00:00","s":"Louka1","v":16.9},{"t":"2016-06-17T00:00","s":"Louka1","v":16.9},{"t":"2016-06-18T00:00","s":"Louka1","v":16.2},{"t":"2016-06-19T00:00","s":"Louka1","v":16.5},{"t":"2016-06-20T00:00","s":"Louka1","v":16.4},{"t":"2016-06-21T00:00","s":"Louka1","v":16.9},{"t":"2016-06-22T00:00","s":"Louka1","v":16.8},{"t":"2016-06-23T00:00","s":"Louka1","v":17.0},{"t":"2016-06-24T00:00","s":"Louka1","v":16.8},{"t":"2016-06-25T00:00","s":"Louka1","v":17.3},{"t":"2016-06-26T00:00","s":"Louka1","v":17.2},{"t":"2016-06-27T00:00","s":"Louka1","v":18.1},{"t":"2016-06-28T00:00","s":"Louka1","v":17.9},{"t":"2016-06-29T00:00","s":"Louka1","v":18.2},{"t":"2016-06-30T00:00","s":"Louka1","v":18.2},
{"t":"2016-07-01T00:00","s":"Louka1","v":18.3},{"t":"2016-07-02T00:00","s":"Louka1","v":17.9},{"t":"2016-07-03T00:00","s":"Louka1","v":17.3},{"t":"2016-07-04T00:00","s":"Louka1","v":17.0},{"t":"2016-07-05T00:00","s":"Louka1","v":16.8},{"t":"2016-07-06T00:00","s":"Louka1","v":16.2},{"t":"2016-07-07T00:00","s":"Louka1","v":16.1},{"t":"2016-07-08T00:00","s":"Louka1","v":15.1},

{"t":"2016-04-07T00:00","s":"Louka 2","v":4.2},{"t":"2016-04-08T00:00","s":"Louka 2","v":4.6},{"t":"2016-04-09T00:00","s":"Louka 2","v":5.2},{"t":"2016-04-10T00:00","s":"Louka 2","v":4.9},{"t":"2016-04-11T00:00","s":"Louka 2","v":4.4},{"t":"2016-04-12T00:00","s":"Louka 2","v":3.5},{"t":"2016-04-13T00:00","s":"Louka 2","v":3.4},{"t":"2016-04-14T00:00","s":"Louka 2","v":3.2},{"t":"2016-04-15T00:00","s":"Louka 2","v":4.0},{"t":"2016-04-16T00:00","s":"Louka 2","v":5.2},{"t":"2016-04-17T00:00","s":"Louka 2","v":6.2},{"t":"2016-04-18T00:00","s":"Louka 2","v":6.5},{"t":"2016-04-19T00:00","s":"Louka 2","v":7.8},{"t":"2016-04-20T00:00","s":"Louka 2","v":8.8},{"t":"2016-04-21T00:00","s":"Louka 2","v":9.2},{"t":"2016-04-22T00:00","s":"Louka 2","v":9.3},{"t":"2016-04-23T00:00","s":"Louka 2","v":10.2},{"t":"2016-04-24T00:00","s":"Louka 2","v":9.9},{"t":"2016-04-25T00:00","s":"Louka 2","v":10.0},{"t":"2016-04-26T00:00","s":"Louka 2","v":10.7},{"t":"2016-04-27T00:00","s":"Louka 2","v":10.8},{"t":"2016-04-28T00:00","s":"Louka 2","v":9.1},{"t":"2016-04-29T00:00","s":"Louka 2","v":8.4},{"t":"2016-04-30T00:00","s":"Louka 2","v":8.4},
{"t":"2016-05-01T00:00","s":"Louka 2","v":9.2},{"t":"2016-05-02T00:00","s":"Louka 2","v":9.3},{"t":"2016-05-03T00:00","s":"Louka 2","v":9.2},{"t":"2016-05-04T00:00","s":"Louka 2","v":7.7},{"t":"2016-05-05T00:00","s":"Louka 2","v":6.6},{"t":"2016-05-06T00:00","s":"Louka 2","v":5.7},{"t":"2016-05-07T00:00","s":"Louka 2","v":5.8},{"t":"2016-05-08T00:00","s":"Louka 2","v":6.5},{"t":"2016-05-09T00:00","s":"Louka 2","v":7.7},{"t":"2016-05-10T00:00","s":"Louka 2","v":7.6},{"t":"2016-05-11T00:00","s":"Louka 2","v":7.8},{"t":"2016-05-12T00:00","s":"Louka 2","v":7.6},{"t":"2016-05-13T00:00","s":"Louka 2","v":7.8},{"t":"2016-05-14T00:00","s":"Louka 2","v":7.1},{"t":"2016-05-15T00:00","s":"Louka 2","v":6.2},{"t":"2016-05-16T00:00","s":"Louka 2","v":5.8},{"t":"2016-05-17T00:00","s":"Louka 2","v":7.1},{"t":"2016-05-18T00:00","s":"Louka 2","v":8.7},{"t":"2016-05-19T00:00","s":"Louka 2","v":10.4},{"t":"2016-05-20T00:00","s":"Louka 2","v":11.0},{"t":"2016-05-21T00:00","s":"Louka 2","v":11.1},{"t":"2016-05-22T00:00","s":"Louka 2","v":10.9},{"t":"2016-05-23T00:00","s":"Louka 2","v":10.5},{"t":"2016-05-24T00:00","s":"Louka 2","v":9.4},{"t":"2016-05-25T00:00","s":"Louka 2","v":9.9},{"t":"2016-05-26T00:00","s":"Louka 2","v":10.7},{"t":"2016-05-27T00:00","s":"Louka 2","v":12.0},{"t":"2016-05-28T00:00","s":"Louka 2","v":11.7},{"t":"2016-05-29T00:00","s":"Louka 2","v":11.0},{"t":"2016-05-30T00:00","s":"Louka 2","v":11.1},{"t":"2016-05-31T00:00","s":"Louka 2","v":11.8},
{"t":"2016-06-01T00:00","s":"Louka 2","v":12.0},{"t":"2016-06-02T00:00","s":"Louka 2","v":12.8},{"t":"2016-06-03T00:00","s":"Louka 2","v":13.5},{"t":"2016-06-04T00:00","s":"Louka 2","v":14.1},{"t":"2016-06-05T00:00","s":"Louka 2","v":14.1},{"t":"2016-06-06T00:00","s":"Louka 2","v":13.8},{"t":"2016-06-07T00:00","s":"Louka 2","v":14.0},{"t":"2016-06-08T00:00","s":"Louka 2","v":13.8},{"t":"2016-06-09T00:00","s":"Louka 2","v":13.5},{"t":"2016-06-10T00:00","s":"Louka 2","v":14.1},{"t":"2016-06-11T00:00","s":"Louka 2","v":14.4},{"t":"2016-06-12T00:00","s":"Louka 2","v":15.2},{"t":"2016-06-13T00:00","s":"Louka 2","v":15.4},{"t":"2016-06-14T00:00","s":"Louka 2","v":15.1},{"t":"2016-06-15T00:00","s":"Louka 2","v":15.2},{"t":"2016-06-16T00:00","s":"Louka 2","v":14.5},{"t":"2016-06-17T00:00","s":"Louka 2","v":14.4},{"t":"2016-06-18T00:00","s":"Louka 2","v":14.7},{"t":"2016-06-19T00:00","s":"Louka 2","v":15.2},{"t":"2016-06-20T00:00","s":"Louka 2","v":15.2},{"t":"2016-06-21T00:00","s":"Louka 2","v":15.7},{"t":"2016-06-22T00:00","s":"Louka 2","v":15.6},{"t":"2016-06-23T00:00","s":"Louka 2","v":16.0},{"t":"2016-06-24T00:00","s":"Louka 2","v":16.1},{"t":"2016-06-25T00:00","s":"Louka 2","v":16.7},{"t":"2016-06-26T00:00","s":"Louka 2","v":16.9},{"t":"2016-06-27T00:00","s":"Louka 2","v":18.2},{"t":"2016-06-28T00:00","s":"Louka 2","v":18.4},{"t":"2016-06-29T00:00","s":"Louka 2","v":18.9},{"t":"2016-06-30T00:00","s":"Louka 2","v":18.9},
{"t":"2016-07-01T00:00","s":"Louka 2","v":19.3},{"t":"2016-07-02T00:00","s":"Louka 2","v":19.2},{"t":"2016-07-03T00:00","s":"Louka 2","v":18.5},{"t":"2016-07-04T00:00","s":"Louka 2","v":17.7},{"t":"2016-07-05T00:00","s":"Louka 2","v":17.9},{"t":"2016-07-06T00:00","s":"Louka 2","v":17.4},{"t":"2016-07-07T00:00","s":"Louka 2","v":17.2},{"t":"2016-07-08T00:00","s":"Louka 2","v":16.7},

{"t":"2016-04-20T00:00","s":"Sjezdovka 1","v":3.7},{"t":"2016-04-21T00:00","s":"Sjezdovka 1","v":4.2},{"t":"2016-04-22T00:00","s":"Sjezdovka 1","v":5.2},{"t":"2016-04-23T00:00","s":"Sjezdovka 1","v":5.9},{"t":"2016-04-24T00:00","s":"Sjezdovka 1","v":6.3},{"t":"2016-04-25T00:00","s":"Sjezdovka 1","v":6.8},{"t":"2016-04-26T00:00","s":"Sjezdovka 1","v":8.0},{"t":"2016-04-27T00:00","s":"Sjezdovka 1","v":8.5},{"t":"2016-04-28T00:00","s":"Sjezdovka 1","v":7.8},{"t":"2016-04-29T00:00","s":"Sjezdovka 1","v":6.9},{"t":"2016-04-30T00:00","s":"Sjezdovka 1","v":7.0},
{"t":"2016-05-01T00:00","s":"Sjezdovka 1","v":7.2},{"t":"2016-05-02T00:00","s":"Sjezdovka 1","v":7.3},{"t":"2016-05-03T00:00","s":"Sjezdovka 1","v":6.9},{"t":"2016-05-04T00:00","s":"Sjezdovka 1","v":6.2},{"t":"2016-05-05T00:00","s":"Sjezdovka 1","v":5.4},{"t":"2016-05-06T00:00","s":"Sjezdovka 1","v":5.1},{"t":"2016-05-07T00:00","s":"Sjezdovka 1","v":5.0},{"t":"2016-05-08T00:00","s":"Sjezdovka 1","v":5.6},{"t":"2016-05-09T00:00","s":"Sjezdovka 1","v":6.2},{"t":"2016-05-10T00:00","s":"Sjezdovka 1","v":6.4},{"t":"2016-05-11T00:00","s":"Sjezdovka 1","v":6.3},{"t":"2016-05-12T00:00","s":"Sjezdovka 1","v":6.4},{"t":"2016-05-13T00:00","s":"Sjezdovka 1","v":6.0},{"t":"2016-05-14T00:00","s":"Sjezdovka 1","v":5.9},{"t":"2016-05-15T00:00","s":"Sjezdovka 1","v":5.2},{"t":"2016-05-16T00:00","s":"Sjezdovka 1","v":5.3},{"t":"2016-05-17T00:00","s":"Sjezdovka 1","v":6.2},{"t":"2016-05-18T00:00","s":"Sjezdovka 1","v":8.2},{"t":"2016-05-19T00:00","s":"Sjezdovka 1","v":9.5},{"t":"2016-05-20T00:00","s":"Sjezdovka 1","v":9.9},{"t":"2016-05-21T00:00","s":"Sjezdovka 1","v":9.8},{"t":"2016-05-22T00:00","s":"Sjezdovka 1","v":10.1},{"t":"2016-05-23T00:00","s":"Sjezdovka 1","v":9.7},{"t":"2016-05-24T00:00","s":"Sjezdovka 1","v":9.2},{"t":"2016-05-25T00:00","s":"Sjezdovka 1","v":9.3},{"t":"2016-05-26T00:00","s":"Sjezdovka 1","v":10.2},{"t":"2016-05-27T00:00","s":"Sjezdovka 1","v":10.9},{"t":"2016-05-28T00:00","s":"Sjezdovka 1","v":11.1},{"t":"2016-05-29T00:00","s":"Sjezdovka 1","v":10.6},{"t":"2016-05-30T00:00","s":"Sjezdovka 1","v":10.8},{"t":"2016-05-31T00:00","s":"Sjezdovka 1","v":11.0},
{"t":"2016-06-01T00:00","s":"Sjezdovka 1","v":11.5},{"t":"2016-06-02T00:00","s":"Sjezdovka 1","v":12.0},{"t":"2016-06-03T00:00","s":"Sjezdovka 1","v":13.2},{"t":"2016-06-04T00:00","s":"Sjezdovka 1","v":13.9},{"t":"2016-06-05T00:00","s":"Sjezdovka 1","v":13.9},{"t":"2016-06-06T00:00","s":"Sjezdovka 1","v":13.9},{"t":"2016-06-07T00:00","s":"Sjezdovka 1","v":14.0},{"t":"2016-06-08T00:00","s":"Sjezdovka 1","v":13.9},{"t":"2016-06-09T00:00","s":"Sjezdovka 1","v":14.0},{"t":"2016-06-10T00:00","s":"Sjezdovka 1","v":13.9},{"t":"2016-06-11T00:00","s":"Sjezdovka 1","v":14.8},{"t":"2016-06-12T00:00","s":"Sjezdovka 1","v":15.8},{"t":"2016-06-13T00:00","s":"Sjezdovka 1","v":16.1},{"t":"2016-06-14T00:00","s":"Sjezdovka 1","v":16.4},{"t":"2016-06-15T00:00","s":"Sjezdovka 1","v":16.6},{"t":"2016-06-16T00:00","s":"Sjezdovka 1","v":16.4},{"t":"2016-06-17T00:00","s":"Sjezdovka 1","v":16.3},{"t":"2016-06-18T00:00","s":"Sjezdovka 1","v":16.0},{"t":"2016-06-19T00:00","s":"Sjezdovka 1","v":16.3},{"t":"2016-06-20T00:00","s":"Sjezdovka 1","v":16.3},{"t":"2016-06-21T00:00","s":"Sjezdovka 1","v":16.6},{"t":"2016-06-22T00:00","s":"Sjezdovka 1","v":16.6},{"t":"2016-06-23T00:00","s":"Sjezdovka 1","v":16.7},{"t":"2016-06-24T00:00","s":"Sjezdovka 1","v":16.7},{"t":"2016-06-25T00:00","s":"Sjezdovka 1","v":17.0},{"t":"2016-06-26T00:00","s":"Sjezdovka 1","v":17.1},{"t":"2016-06-27T00:00","s":"Sjezdovka 1","v":17.8},{"t":"2016-06-28T00:00","s":"Sjezdovka 1","v":17.6},{"t":"2016-06-29T00:00","s":"Sjezdovka 1","v":17.7},{"t":"2016-06-30T00:00","s":"Sjezdovka 1","v":17.7},
{"t":"2016-07-01T00:00","s":"Sjezdovka 1","v":17.8},{"t":"2016-07-02T00:00","s":"Sjezdovka 1","v":17.6},{"t":"2016-07-03T00:00","s":"Sjezdovka 1","v":17.0},{"t":"2016-07-04T00:00","s":"Sjezdovka 1","v":16.8},{"t":"2016-07-05T00:00","s":"Sjezdovka 1","v":16.7},{"t":"2016-07-06T00:00","s":"Sjezdovka 1","v":16.5},{"t":"2016-07-07T00:00","s":"Sjezdovka 1","v":16.4},{"t":"2016-07-08T00:00","s":"Sjezdovka 1","v":15.9},

{"t":"2016-05-03T00:00","s":"Sjezdovka 2","v":4.9},{"t":"2016-05-04T00:00","s":"Sjezdovka 2","v":4.1},{"t":"2016-05-05T00:00","s":"Sjezdovka 2","v":3.7},{"t":"2016-05-06T00:00","s":"Sjezdovka 2","v":3.4},{"t":"2016-05-07T00:00","s":"Sjezdovka 2","v":3.3},{"t":"2016-05-10T00:00","s":"Sjezdovka 2","v":5.9},{"t":"2016-05-11T00:00","s":"Sjezdovka 2","v":5.9},{"t":"2016-05-12T00:00","s":"Sjezdovka 2","v":5.9},{"t":"2016-05-13T00:00","s":"Sjezdovka 2","v":6.1},{"t":"2016-05-14T00:00","s":"Sjezdovka 2","v":5.7},{"t":"2016-05-15T00:00","s":"Sjezdovka 2","v":5.1},{"t":"2016-05-16T00:00","s":"Sjezdovka 2","v":5.0},{"t":"2016-05-17T00:00","s":"Sjezdovka 2","v":6.0},{"t":"2016-05-18T00:00","s":"Sjezdovka 2","v":8.0},{"t":"2016-05-19T00:00","s":"Sjezdovka 2","v":10.1},{"t":"2016-05-20T00:00","s":"Sjezdovka 2","v":10.7},{"t":"2016-05-21T00:00","s":"Sjezdovka 2","v":11.4},{"t":"2016-05-22T00:00","s":"Sjezdovka 2","v":11.2},{"t":"2016-05-23T00:00","s":"Sjezdovka 2","v":10.2},{"t":"2016-05-24T00:00","s":"Sjezdovka 2","v":9.3},{"t":"2016-05-25T00:00","s":"Sjezdovka 2","v":9.6},{"t":"2016-05-26T00:00","s":"Sjezdovka 2","v":10.4},{"t":"2016-05-27T00:00","s":"Sjezdovka 2","v":11.3},{"t":"2016-05-28T00:00","s":"Sjezdovka 2","v":12.2},{"t":"2016-05-29T00:00","s":"Sjezdovka 2","v":11.8},{"t":"2016-05-30T00:00","s":"Sjezdovka 2","v":11.0},{"t":"2016-05-31T00:00","s":"Sjezdovka 2","v":11.4},
{"t":"2016-06-01T00:00","s":"Sjezdovka 2","v":11.7},{"t":"2016-06-02T00:00","s":"Sjezdovka 2","v":12.3},{"t":"2016-06-03T00:00","s":"Sjezdovka 2","v":13.4},{"t":"2016-06-04T00:00","s":"Sjezdovka 2","v":14.1},{"t":"2016-06-05T00:00","s":"Sjezdovka 2","v":14.1},{"t":"2016-06-06T00:00","s":"Sjezdovka 2","v":14.1},{"t":"2016-06-07T00:00","s":"Sjezdovka 2","v":14.2},{"t":"2016-06-08T00:00","s":"Sjezdovka 2","v":14.1},{"t":"2016-06-09T00:00","s":"Sjezdovka 2","v":14.1},{"t":"2016-06-10T00:00","s":"Sjezdovka 2","v":14.2},{"t":"2016-06-11T00:00","s":"Sjezdovka 2","v":15.0},{"t":"2016-06-12T00:00","s":"Sjezdovka 2","v":16.0},{"t":"2016-06-13T00:00","s":"Sjezdovka 2","v":16.3},{"t":"2016-06-14T00:00","s":"Sjezdovka 2","v":16.6},{"t":"2016-06-15T00:00","s":"Sjezdovka 2","v":16.8},{"t":"2016-06-16T00:00","s":"Sjezdovka 2","v":16.6},{"t":"2016-06-17T00:00","s":"Sjezdovka 2","v":16.5},{"t":"2016-06-18T00:00","s":"Sjezdovka 2","v":16.3},{"t":"2016-06-19T00:00","s":"Sjezdovka 2","v":16.5},{"t":"2016-06-20T00:00","s":"Sjezdovka 2","v":16.5},{"t":"2016-06-21T00:00","s":"Sjezdovka 2","v":16.8},{"t":"2016-06-22T00:00","s":"Sjezdovka 2","v":16.9},{"t":"2016-06-23T00:00","s":"Sjezdovka 2","v":17.3},{"t":"2016-06-24T00:00","s":"Sjezdovka 2","v":17.2},{"t":"2016-06-25T00:00","s":"Sjezdovka 2","v":17.3},{"t":"2016-06-26T00:00","s":"Sjezdovka 2","v":17.3},{"t":"2016-06-27T00:00","s":"Sjezdovka 2","v":18.0},{"t":"2016-06-28T00:00","s":"Sjezdovka 2","v":17.8},{"t":"2016-06-29T00:00","s":"Sjezdovka 2","v":17.9},{"t":"2016-06-30T00:00","s":"Sjezdovka 2","v":17.9},
{"t":"2016-07-01T00:00","s":"Sjezdovka 2","v":18.1},{"t":"2016-07-02T00:00","s":"Sjezdovka 2","v":17.8},{"t":"2016-07-03T00:00","s":"Sjezdovka 2","v":17.2},{"t":"2016-07-04T00:00","s":"Sjezdovka 2","v":17.1},{"t":"2016-07-05T00:00","s":"Sjezdovka 2","v":17.0},{"t":"2016-07-06T00:00","s":"Sjezdovka 2","v":16.7},{"t":"2016-07-07T00:00","s":"Sjezdovka 2","v":16.7},{"t":"2016-07-08T00:00","s":"Sjezdovka 2","v":16.1}
]},
"mark": {"type": "line", "strokeWidth": 1.3, "clip": true},
"encoding": {
  "x": {"field": "t", "type": "temporal",
    "scale": {"domain": [{"year": 2015, "month": 11, "date": 21, "hours": 15, "minutes": 36}, {"year": 2016, "month": 7, "date": 9, "hours": 5, "minutes": 45}]},
    "axis": {"title": "Datum", "format": "%d. %m.", "tickCount": {"interval": "month", "step": 1}, "labelPadding": 7, "titlePadding": 9, "labelFlush": false, "labelOverlap": false}},
  "y": {"field": "v", "type": "quantitative",
    "scale": {"domain": [0, 20.94], "nice": false, "zero": true},
    "axis": {"title": "Teplota půdy [°C]", "values": [0, 2, 4, 6, 8, 10, 12, 14, 16, 18, 20], "labelPadding": 5, "titlePadding": 20}},
  "color": {"field": "s", "type": "nominal",
    "scale": {"domain": ["Louka1", "Louka 2", "Sjezdovka 1", "Sjezdovka 2"], "range": ["#50b95c", "#ee8532", "#147b8f", "#e22338"]},
    "legend": {"orient": "none", "legendX": -62, "legendY": 388, "direction": "horizontal", "title": null,
      "symbolSize": 529, "symbolStrokeWidth": 0, "symbolType": "M-1,-1H5.35V1H-1Z",
      "labelFont": "Open Sans", "labelFontSize": 14, "labelColor": "#ffffff", "labelOffset": -13, "labelLimit": 0,
      "columnPadding": 13, "padding": 0, "offset": 0,
      "encode": {"symbols": {"update": {
        "shape": {"signal": "indexof(['Sjezdovka 1','Sjezdovka 2'], datum.value) >= 0 ? 'M-1,-1H7.7V1H-1Z' : 'M-1,-1H5.35V1H-1Z'"},
        "fill": {"signal": "scale('color', datum.value)"},
        "strokeWidth": {"value": 0},
        "opacity": {"value": 1}}}}}}
}
}
